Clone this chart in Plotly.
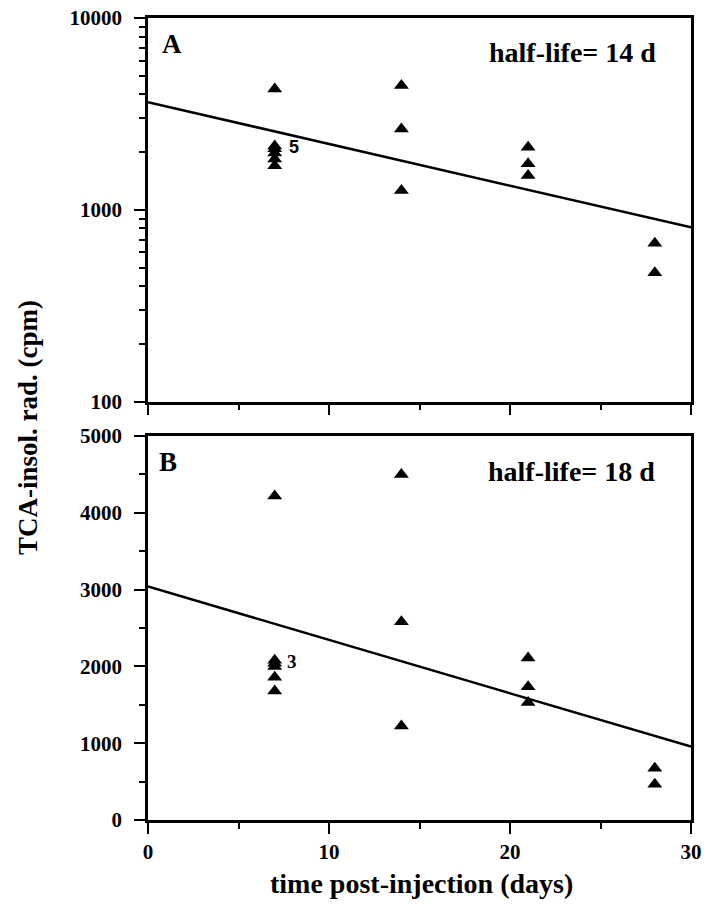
import plotly.graph_objects as go

# ---- data ----
days = [7, 7, 7, 7, 7, 7, 14, 14, 14, 21, 21, 21, 28, 28]
cpm_a = [4270, 2150, 2080, 1980, 1840, 1700, 4450, 2640, 1260, 2120, 1740, 1510, 670, 470]
cpm_b = [4220, 2080, 2040, 2000, 1860, 1680, 4500, 2580, 1225, 2110, 1735, 1530, 675, 465]
fit_days = [0, 30]
fit_a = [3640, 810]
fit_b = [3040, 955]
ytick_log = [100, 1000, 10000]
ytick_log_text = ["100", "1000", "10000"]
ytick_log_minor = [200, 300, 400, 500, 600, 700, 800, 900,
                   2000, 3000, 4000, 5000, 6000, 7000, 8000, 9000]
ytick_lin = [0, 1000, 2000, 3000, 4000, 5000]
xtick = [0, 10, 20, 30]

FONT = "Liberation Serif"
tickfont = dict(family=FONT, size=21, color="black", weight="bold")

fig = go.Figure()

marker = dict(symbol="triangle-up", size=13, color="black")
line = dict(color="black", width=2.5)

# Panel A (top, log)
fig.add_trace(go.Scatter(x=days, y=cpm_a, mode="markers", marker=marker,
                         xaxis="x2", yaxis="y2", showlegend=False))
fig.add_trace(go.Scatter(x=fit_days, y=fit_a, mode="lines", line=line,
                         xaxis="x2", yaxis="y2", showlegend=False))
# Panel B (bottom, linear)
fig.add_trace(go.Scatter(x=days, y=cpm_b, mode="markers", marker=marker,
                         xaxis="x", yaxis="y", showlegend=False))
fig.add_trace(go.Scatter(x=fit_days, y=fit_b, mode="lines", line=line,
                         xaxis="x", yaxis="y", showlegend=False))

axis_common = dict(showline=True, linecolor="black", linewidth=2.5, mirror=True,
                   ticks="outside", ticklen=11, tickwidth=2, tickcolor="black",
                   showgrid=False, zeroline=False, tickfont=tickfont,
                   automargin=False, ticklabeloverflow="allow")

fig.update_layout(
    width=711, height=909,
    margin=dict(l=140, r=28, t=10, b=97, autoexpand=False),
    paper_bgcolor="white", plot_bgcolor="white",
    xaxis=dict(axis_common, anchor="y", domain=[0, 1], range=[0, 30],
               tickmode="array", tickvals=xtick,
               minor=dict(dtick=5, tick0=0, ticklen=6, tickwidth=2,
                          ticks="outside", tickcolor="black")),
    yaxis=dict(axis_common, anchor="x", domain=[0, 0.4788], range=[0, 5000],
               tickmode="array", tickvals=ytick_lin, ticklabelstandoff=8,
               minor=dict(dtick=500, tick0=0, ticklen=6, tickwidth=2,
                          ticks="outside", tickcolor="black")),
    xaxis2=dict(axis_common, anchor="y2", domain=[0, 1], range=[0, 30],
                matches="x", showticklabels=False,
                tickmode="array", tickvals=xtick,
                minor=dict(dtick=5, tick0=0, ticklen=6, tickwidth=2,
                           ticks="outside", tickcolor="black")),
    yaxis2=dict(axis_common, anchor="x2", domain=[0.5216, 1], type="log",
                range=[2, 4], tickmode="array", tickvals=ytick_log,
                ticktext=ytick_log_text, ticklabelstandoff=8,
                minor=dict(tickvals=ytick_log_minor, ticklen=6, tickwidth=2,
                           ticks="outside", tickcolor="black")),
)

title_font = dict(family=FONT, size=27, color="black", weight="bold")
hl_font = dict(family=FONT, size=28, color="black", weight="bold")

annotations = [
    dict(text="A", xref="x2 domain", yref="y2 domain", x=0.022, y=0.933,
         xanchor="left", yanchor="middle", showarrow=False, font=title_font),
    dict(text="half-life= 14 d", xref="x2 domain", yref="y2 domain", x=0.939, y=0.91,
         xanchor="right", yanchor="middle", showarrow=False, font=hl_font),
    dict(text="B", xref="x domain", yref="y domain", x=0.0166, y=0.932,
         xanchor="left", yanchor="middle", showarrow=False, font=title_font),
    dict(text="half-life= 18 d", xref="x domain", yref="y domain", x=0.937, y=0.907,
         xanchor="right", yanchor="middle", showarrow=False, font=hl_font),
    dict(text="5", xref="x2", yref="y2", x=7.68, y=3.33,
         xanchor="left", yanchor="middle", showarrow=False,
         font=dict(family="Liberation Sans", size=18, color="black", weight="bold")),
    dict(text="3", xref="x", yref="y", x=7.57, y=2064,
         xanchor="left", yanchor="middle", showarrow=False,
         font=dict(family=FONT, size=19, color="black", weight="bold")),
    dict(text="TCA-insol. rad. (cpm)", xref="paper", yref="paper",
         x=-0.221, y=0.49, textangle=-90, xanchor="center", yanchor="middle",
         showarrow=False, font=title_font),
    dict(text="time post-injection (days)", xref="paper", yref="paper",
         x=0.5037, y=-0.0786, xanchor="center", yanchor="middle",
         showarrow=False, font=dict(family=FONT, size=28, color="black", weight="bold")),
]
fig.update_layout(annotations=annotations)

fig.write_html("out.html")
